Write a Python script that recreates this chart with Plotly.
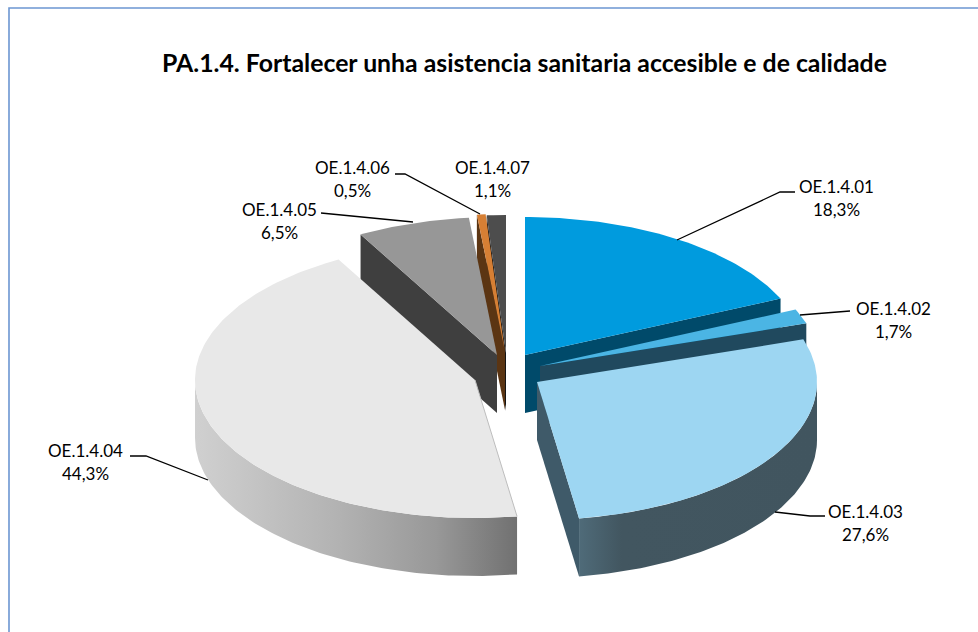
import math
import plotly.graph_objects as go

# ---------- data ----------
categories = ["OE.1.4.01", "OE.1.4.02", "OE.1.4.03", "OE.1.4.04", "OE.1.4.05", "OE.1.4.06", "OE.1.4.07"]
shares = [18.3, 1.7, 27.6, 44.3, 6.5, 0.5, 1.1]
title_text = "PA.1.4. Fortalecer unha asistencia sanitaria accesible e de calidade"

# ---------- style / geometry ----------
top_colors = ["#009BDE", "#4BB5E4", "#9DD6F2", "#E8E8E8", "#979797", "#D67F34", "#4D4D4D"]
face_colors = ["#004A6A", "#20495E", "#3F5A69", "#8A8A8A", "#3F3F3F", "#5B3513", "#141414"]
CX, CY, RX, RY, DEPTH = 505, 371, 280, 138, 58
explode_px = [(20, -16), (35, -5), (32, 11), (-30, 9), (-8, -16), (0, -19), (1, -18)]
draw_order = [6, 5, 4, 0, 1, 2, 3]
wall_ramps = {
    2: [[0.0, "#4F6B79"], [0.18, "#425660"], [1.0, "#41555F"]],
    3: [[0.0, "#D0D0D0"], [0.45, "#B2B2B2"], [0.75, "#989898"], [1.0, "#717171"]],
}
label_pos = [(836, 186), (893, 308), (865, 511), (85, 450), (279, 209), (352, 167), (492, 167)]
leaders = [
    [(677, 240), (780, 192), (795, 192)],
    [(800, 315), (850, 311)],
    [(775, 512), (810, 516), (825, 516)],
    [(208, 480), (146, 456), (130, 456)],
    [(413, 222), (321, 213)],
    [(480, 214), (405, 174), (395, 174)],
]
BORDER = "#6C96D2"


def rim(apex, deg):
    t = math.radians(deg)
    return apex[0] + RX * math.sin(t), apex[1] - RY * math.cos(t)


fig = go.Figure()


def poly(xs, ys, color=None, ramp=None):
    kw = dict(fillcolor=color) if ramp is None else dict(
        fillgradient=dict(type="horizontal", colorscale=ramp))
    fig.add_trace(go.Scatter(
        x=list(xs) + [xs[0]], y=list(ys) + [ys[0]], mode="lines", fill="toself",
        line=dict(color="rgba(0,0,0,0)", width=0), hoverinfo="skip", showlegend=False, **kw))


total = sum(shares)
edges = [0.0]
for v in shares:
    edges.append(edges[-1] + v / total * 360)

for i in draw_order:
    a0, a1 = edges[i], edges[i + 1]
    apex = (CX + explode_px[i][0], CY + explode_px[i][1])

    # cut faces that turn towards the viewer
    for deg, sign in ((a0, -1), (a1, 1)):
        if sign * math.sin(math.radians(deg)) > 0:
            px, py = rim(apex, deg)
            poly([apex[0], px, px, apex[0]], [apex[1], py, py + DEPTH, apex[1] + DEPTH], face_colors[i])

    # outer wall (front half of the rim only)
    w0, w1 = max(a0, 90.0), min(a1, 270.0)
    if w1 > w0:
        n = max(2, int((w1 - w0) / 1.0))
        arc = [rim(apex, w0 + (w1 - w0) * k / n) for k in range(n + 1)]
        xs = [p[0] for p in arc] + [p[0] for p in reversed(arc)]
        ys = [p[1] for p in arc] + [p[1] + DEPTH for p in reversed(arc)]
        poly(xs, ys, face_colors[i], wall_ramps.get(i))

    # top
    n = max(3, int((a1 - a0) / 1.0))
    pts = [rim(apex, a0 + (a1 - a0) * k / n) for k in range(n + 1)]
    poly([apex[0]] + [p[0] for p in pts], [apex[1]] + [p[1] for p in pts], top_colors[i])

    if i == 3:
        ex, ey = rim(apex, a0)
        fig.add_trace(go.Scatter(x=[apex[0], ex], y=[apex[1], ey], mode="lines",
                                 line=dict(color="#BDBDBD", width=1), hoverinfo="skip", showlegend=False))

# leader lines
for seg in leaders:
    fig.add_trace(go.Scatter(x=[p[0] for p in seg], y=[p[1] for p in seg], mode="lines",
                             line=dict(color="#000000", width=1.3), hoverinfo="skip", showlegend=False))

# frame
fig.add_trace(go.Scatter(x=[9, 9, 978], y=[632, 8, 8], mode="lines",
                         line=dict(color=BORDER, width=1.6), hoverinfo="skip", showlegend=False))

annotations = []
for name, val, (lx, ly) in zip(categories, shares, label_pos):
    pct = f"{val:.1f}".replace(".", ",") + "%"
    for text, yy in ((name, ly), (pct, ly + 23)):
        annotations.append(dict(x=lx, y=yy, xref="x", yref="y", text=text, showarrow=False,
                                xanchor="center", yanchor="middle",
                                font=dict(family="Lato", size=17, color="#000000")))
annotations.append(dict(x=524, y=62, xref="x", yref="y", text=f"<b>{title_text}</b>", showarrow=False,
                        xanchor="center", yanchor="middle",
                        font=dict(family="Lato", size=24.8, color="#000000")))

fig.update_layout(
    width=978, height=632, autosize=False,
    margin=dict(l=0, r=0, t=0, b=0),
    paper_bgcolor="#FFFFFF", plot_bgcolor="#FFFFFF",
    xaxis=dict(range=[0, 978], visible=False, fixedrange=True),
    yaxis=dict(range=[632, 0], visible=False, fixedrange=True),
    annotations=annotations, showlegend=False,
)
fig.write_html("out.html", config={"displayModeBar": False, "staticPlot": True},
               post_script="document.body.style.margin='0';document.documentElement.style.overflow='hidden';")
